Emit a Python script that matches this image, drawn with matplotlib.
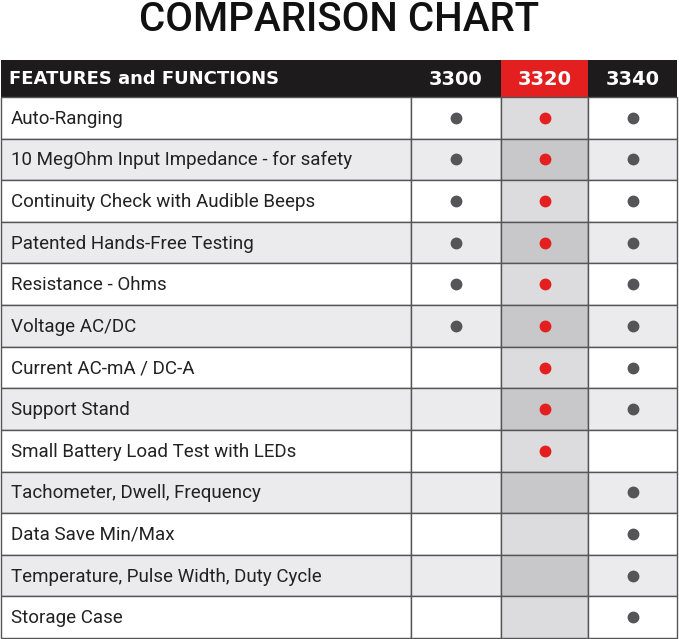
import matplotlib.pyplot as plt
from matplotlib.patches import Rectangle

models = ["3300", "3320", "3340"]
features = [
    "Auto-Ranging",
    "10 MegOhm Input Impedance - for safety",
    "Continuity Check with Audible Beeps",
    "Patented Hands-Free Testing",
    "Resistance - Ohms",
    "Voltage AC/DC",
    "Current AC-mA / DC-A",
    "Support Stand",
    "Small Battery Load Test with LEDs",
    "Tachometer, Dwell, Frequency",
    "Data Save Min/Max",
    "Temperature, Pulse Width, Duty Cycle",
    "Storage Case",
]
has_3300 = [1, 1, 1, 1, 1, 1, 0, 0, 0, 0, 0, 0, 0]
has_3320 = [1, 1, 1, 1, 1, 1, 1, 1, 1, 0, 0, 0, 0]
has_3340 = [1, 1, 1, 1, 1, 1, 1, 1, 0, 1, 1, 1, 1]

W, H = 679, 639
fig = plt.figure(figsize=(W / 100, H / 100), dpi=100)
ax = fig.add_axes([0, 0, 1, 1])
ax.set_xlim(0, W)
ax.set_ylim(H, 0)
ax.axis("off")

col_x = [1, 411, 501, 588, 677]
head_top, head_bot = 60, 97
row_h = (638 - head_bot) / len(features)

ax.text(W / 2, 20, "COMPARISON CHART", ha="center", va="center",
        fontsize=29, fontweight="medium", family="Roboto", color="#111111")

# header
ax.add_patch(Rectangle((col_x[0], head_top), col_x[4] - col_x[0], head_bot - head_top,
                       facecolor="#1d1b1c", edgecolor="none"))
ax.add_patch(Rectangle((col_x[2], head_top), col_x[3] - col_x[2], head_bot - head_top,
                       facecolor="#e3201f", edgecolor="none"))
ax.text(9, (head_top + head_bot) / 2, "FEATURES and FUNCTIONS", ha="left", va="center",
        fontsize=13, fontweight="heavy", color="white", family="DejaVu Sans")
for i, m in enumerate(models):
    ax.text((col_x[i + 1] + col_x[i + 2]) / 2, (head_top + head_bot) / 2 + 1, m,
            ha="center", va="center", fontsize=14, fontweight="heavy", color="white")

cols = [has_3300, has_3320, has_3340]
for r, feat in enumerate(features):
    y0 = head_bot + r * row_h
    shaded = r % 2 == 1
    for c in range(4):
        if c == 2:
            fc = "#c8c8ca" if shaded else "#dcdcde"
        else:
            fc = "#ebebed" if shaded else "white"
        ax.add_patch(Rectangle((col_x[c], y0), col_x[c + 1] - col_x[c], row_h,
                               facecolor=fc, edgecolor="#555555", linewidth=1.0))
    ax.text(11, y0 + row_h / 2 + 1, feat, ha="left", va="center", fontsize=13.5,
            family="Roboto", color="#222222")
    for c, vals in enumerate(cols):
        if vals[r]:
            color = "#e3201f" if c == 1 else "#555557"
            ax.plot((col_x[c + 1] + col_x[c + 2]) / 2, y0 + row_h / 2, "o",
                    color=color, markersize=7.5)

fig.savefig("out.png", dpi=100)
